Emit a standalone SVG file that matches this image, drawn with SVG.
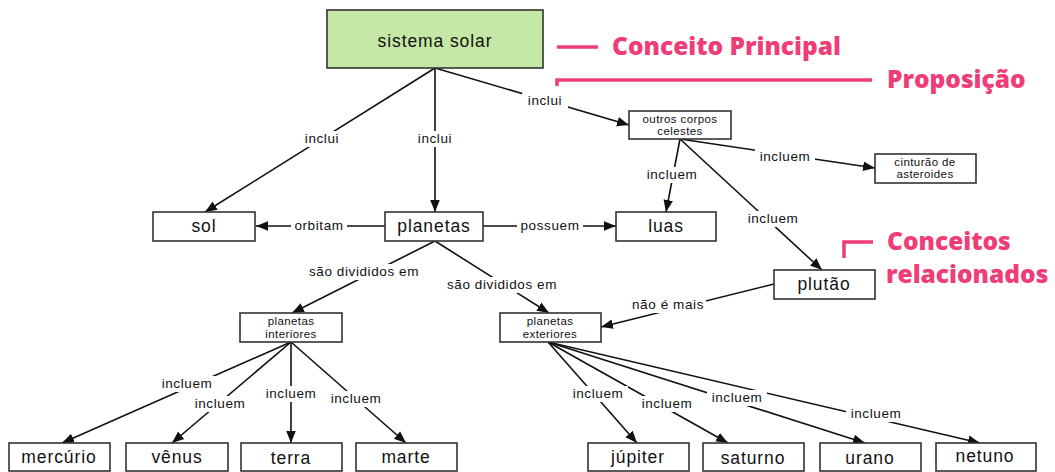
<svg xmlns="http://www.w3.org/2000/svg" width="1055" height="472" viewBox="0 0 1055 472">
<style>
.box{fill:#fff;stroke:#333;stroke-width:1.6}
.main{fill:#c5e8a6;stroke:#333;stroke-width:1.6}
.t{font-family:"Liberation Sans",Arial,sans-serif;font-size:17.5px;fill:#111;text-anchor:middle;letter-spacing:0.9px}
.ts{font-family:"Liberation Sans",Arial,sans-serif;font-size:11.5px;fill:#111;text-anchor:middle;letter-spacing:0.4px}
.lbl{font-family:"Liberation Sans",Arial,sans-serif;font-size:13.5px;fill:#111;text-anchor:middle;letter-spacing:0.6px}
.lb{fill:#fff}
.c{stroke:#111;stroke-width:1.6;fill:none}
.pk{font-family:"Open Sans","Noto Sans",sans-serif;font-weight:800;font-size:24.5px;fill:#ee3d78}
.pl{stroke:#ee3d78;stroke-width:3.5;fill:none}
</style>
<defs>
<marker id="ar" viewBox="0 0 10 10" refX="10" refY="5" markerWidth="12" markerHeight="12" markerUnits="userSpaceOnUse" orient="auto">
<path d="M0,1 L10,5 L0,9 z" fill="#111"/>
</marker>
</defs>
<rect width="1055" height="472" fill="#fff"/>

<g id="connectors">
<line class="c" x1="435" y1="68" x2="205" y2="212" marker-end="url(#ar)"/>
<line class="c" x1="435" y1="68" x2="435" y2="212" marker-end="url(#ar)"/>
<line class="c" x1="435" y1="68" x2="629" y2="125" marker-end="url(#ar)"/>
<line class="c" x1="680" y1="139" x2="666" y2="212" marker-end="url(#ar)"/>
<line class="c" x1="680" y1="139" x2="875" y2="168" marker-end="url(#ar)"/>
<line class="c" x1="680" y1="139" x2="822" y2="270" marker-end="url(#ar)"/>
<line class="c" x1="385" y1="226" x2="256" y2="226" marker-end="url(#ar)"/>
<line class="c" x1="483" y1="226" x2="616" y2="226" marker-end="url(#ar)"/>
<line class="c" x1="435" y1="241" x2="292" y2="313" marker-end="url(#ar)"/>
<line class="c" x1="435" y1="241" x2="549" y2="313" marker-end="url(#ar)"/>
<line class="c" x1="774" y1="284" x2="601" y2="327" marker-end="url(#ar)"/>
<line class="c" x1="291" y1="342" x2="62" y2="443" marker-end="url(#ar)"/>
<line class="c" x1="291" y1="342" x2="172" y2="443" marker-end="url(#ar)"/>
<line class="c" x1="291" y1="342" x2="291" y2="443" marker-end="url(#ar)"/>
<line class="c" x1="291" y1="342" x2="406" y2="443" marker-end="url(#ar)"/>
<line class="c" x1="548" y1="342" x2="637" y2="443" marker-end="url(#ar)"/>
<line class="c" x1="548" y1="342" x2="728" y2="443" marker-end="url(#ar)"/>
<line class="c" x1="548" y1="342" x2="865" y2="443" marker-end="url(#ar)"/>
<line class="c" x1="548" y1="342" x2="980" y2="443" marker-end="url(#ar)"/>

<rect class="lb" x="298" y="131" width="48" height="16"/><text class="lbl" x="322" y="143">inclui</text>
<rect class="lb" x="412" y="131" width="46" height="16"/><text class="lbl" x="435" y="143">inclui</text>
<rect class="lb" x="522" y="93" width="46" height="16"/><text class="lbl" x="545" y="105">inclui</text>
<rect class="lb" x="642" y="167" width="60" height="16"/><text class="lbl" x="672" y="179">incluem</text>
<rect class="lb" x="755" y="149" width="60" height="16"/><text class="lbl" x="785" y="161">incluem</text>
<rect class="lb" x="743" y="211" width="60" height="16"/><text class="lbl" x="773" y="223">incluem</text>
<rect class="lb" x="291" y="218" width="56" height="16"/><text class="lbl" x="319" y="230">orbitam</text>
<rect class="lb" x="517" y="218" width="66" height="16"/><text class="lbl" x="550" y="230">possuem</text>
<rect class="lb" x="300" y="264" width="128" height="16"/><text class="lbl" x="364" y="276">são divididos em</text>
<rect class="lb" x="438" y="277" width="128" height="16"/><text class="lbl" x="502" y="289">são divididos em</text>
<rect class="lb" x="630" y="297" width="76" height="16"/><text class="lbl" x="668" y="309">não é mais</text>
<rect class="lb" x="157" y="376" width="60" height="16"/><text class="lbl" x="187" y="388">incluem</text>
<rect class="lb" x="190" y="396" width="60" height="16"/><text class="lbl" x="220" y="408">incluem</text>
<rect class="lb" x="261" y="386" width="60" height="16"/><text class="lbl" x="291" y="398">incluem</text>
<rect class="lb" x="326" y="391" width="60" height="16"/><text class="lbl" x="356" y="403">incluem</text>
<rect class="lb" x="568" y="386" width="60" height="16"/><text class="lbl" x="598" y="398">incluem</text>
<rect class="lb" x="637" y="396" width="60" height="16"/><text class="lbl" x="667" y="408">incluem</text>
<rect class="lb" x="707" y="390" width="60" height="16"/><text class="lbl" x="737" y="402">incluem</text>
<rect class="lb" x="846" y="406" width="60" height="16"/><text class="lbl" x="876" y="418">incluem</text>
</g>

<g id="n-sistema"><rect class="main" x="327" y="10" width="216" height="58"/><text class="t" x="435" y="47">sistema solar</text></g>
<g id="n-outros"><rect class="box" x="629" y="111" width="102" height="28"/><text class="ts" x="680" y="123">outros corpos</text><text class="ts" x="680" y="135">celestes</text></g>
<g id="n-cinturao"><rect class="box" x="875" y="154" width="101" height="29"/><text class="ts" x="925" y="166">cinturão de</text><text class="ts" x="925" y="178">asteroides</text></g>
<g id="n-sol"><rect class="box" x="153" y="212" width="102" height="29"/><text class="t" x="204" y="232">sol</text></g>
<g id="n-planetas"><rect class="box" x="385" y="212" width="98" height="29"/><text class="t" x="434" y="232">planetas</text></g>
<g id="n-luas"><rect class="box" x="616" y="212" width="100" height="29"/><text class="t" x="666" y="232">luas</text></g>
<g id="n-plutao"><rect class="box" x="774" y="270" width="101" height="29"/><text class="t" x="824" y="290">plutão</text></g>
<g id="n-interiores"><rect class="box" x="240" y="313" width="102" height="29"/><text class="ts" x="291" y="325">planetas</text><text class="ts" x="291" y="338">interiores</text></g>
<g id="n-exteriores"><rect class="box" x="500" y="313" width="101" height="29"/><text class="ts" x="550" y="325">planetas</text><text class="ts" x="550" y="338">exteriores</text></g>
<g id="n-mercurio"><rect class="box" x="9" y="443" width="101" height="28"/><text class="t" x="59" y="463">mercúrio</text></g>
<g id="n-venus"><rect class="box" x="126" y="443" width="102" height="28"/><text class="t" x="177" y="463">vênus</text></g>
<g id="n-terra"><rect class="box" x="241" y="443" width="101" height="28"/><text class="t" x="291" y="464">terra</text></g>
<g id="n-marte"><rect class="box" x="356" y="443" width="101" height="28"/><text class="t" x="406" y="463">marte</text></g>
<g id="n-jupiter"><rect class="box" x="588" y="443" width="101" height="28"/><text class="t" x="638" y="463">júpiter</text></g>
<g id="n-saturno"><rect class="box" x="703" y="443" width="101" height="28"/><text class="t" x="753" y="464">saturno</text></g>
<g id="n-urano"><rect class="box" x="820" y="443" width="101" height="28"/><text class="t" x="870" y="464">urano</text></g>
<g id="n-netuno"><rect class="box" x="936" y="443" width="100" height="28"/><text class="t" x="985" y="462">netuno</text></g>

<g id="annotations">
<line class="pl" x1="557" y1="47" x2="598" y2="47"/>
<text class="pk" x="612" y="55">Conceito Principal</text>
<path class="pl" d="M557,86 V80 H872"/>
<text class="pk" x="887" y="88">Proposição</text>
<path class="pl" d="M844,258 V242 H873"/>
<text class="pk" x="887" y="250">Conceitos</text>
<text class="pk" x="886" y="283">relacionados</text>
</g>
</svg>
